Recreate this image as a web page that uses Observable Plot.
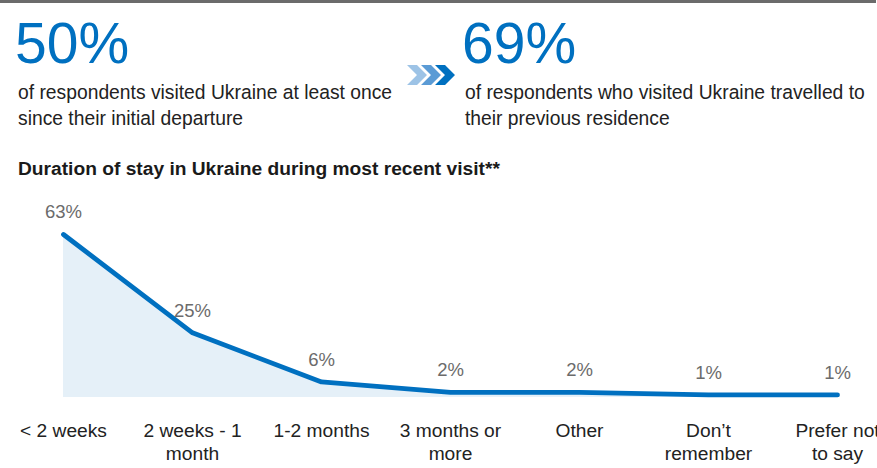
<!DOCTYPE html>
<html>
<head>
<meta charset="utf-8">
<script src="https://cdn.jsdelivr.net/npm/d3@7"></script>
<script src="https://cdn.jsdelivr.net/npm/@observablehq/plot@0.6"></script>
<style>
  html, body { margin: 0; padding: 0; background: #fff; }
  body { width: 877px; height: 468px; position: relative; overflow: hidden; font-family: "Liberation Sans", Arial, sans-serif; }
  .topbar { position: absolute; left: 0; top: 0; width: 876px; height: 3px; background: #6b6b6b; }
  .big { position: absolute; font-size: 57px; line-height: 57px; color: #0070c0; }
  .sub { position: absolute; font-size: 19.3px; line-height: 26px; color: #222; white-space: nowrap; }
  .title { position: absolute; left: 18px; top: 158px; font-size: 19.2px; line-height: 22px; font-weight: bold; color: #1a1a1a; white-space: nowrap; }
  #chart { position: absolute; left: 0; top: 190px; }
  #chev { position: absolute; left: 407px; top: 65px; }
</style>
</head>
<body>
<div class="topbar"></div>
<div class="big" id="stat1" style="left:15px; top:15px;"></div>
<div class="sub" id="text1" style="left:18px; top:80px;"></div>
<svg id="chev" width="50" height="22" viewBox="0 0 50 22">
  <polygon points="0,0 10,0 20,10 10,20 0,20 10,10" fill="#9dc3e6"/>
  <polygon points="14,0 24,0 34,10 24,20 14,20 24,10" fill="#5b9bd5"/>
  <polygon points="28,0 38,0 48,10 38,20 28,20 38,10" fill="#0070c0"/>
</svg>
<div class="big" id="stat2" style="left:462px; top:15px;"></div>
<div class="sub" id="text2" style="left:465px; top:80px;"></div>
<div class="title" id="title"></div>
<div id="chart"></div>
<script>
const headlineValues = ["50%", "69%"];
const headlineTexts = [
  "of respondents visited Ukraine at least once<br>since their initial departure",
  "of respondents who visited Ukraine travelled to<br>their previous residence"
];
const chartTitle = "Duration of stay in Ukraine during most recent visit**";
const categories = ["< 2 weeks", "2 weeks - 1 month", "1-2 months", "3 months or more", "Other", "Don’t remember", "Prefer not to say"];
const categoryLabels = ["< 2 weeks", "2 weeks - 1\nmonth", "1-2 months", "3 months or\nmore", "Other", "Don’t\nremember", "Prefer not\nto say"];
const values = [63, 25, 6, 2, 2, 1, 1];

document.getElementById("stat1").textContent = headlineValues[0];
document.getElementById("stat2").textContent = headlineValues[1];
document.getElementById("text1").innerHTML = headlineTexts[0];
document.getElementById("text2").innerHTML = headlineTexts[1];
document.getElementById("title").textContent = chartTitle;

const data = categories.map((c, i) => ({cat: c, label: categoryLabels[i], value: values[i]}));

const chart = Plot.plot({
  width: 877,
  height: 278,
  marginTop: 44,
  marginBottom: 71,
  marginLeft: 62,
  marginRight: 40,
  style: {fontFamily: "'Liberation Sans', Arial, sans-serif", background: "transparent"},
  x: {type: "point", domain: categories, padding: 0, axis: null},
  y: {domain: [0, 63], axis: null},
  marks: [
    Plot.areaY(data, {x: "cat", y: "value", fill: "#e5f0f8"}),
    Plot.lineY(data, {x: "cat", y: "value", stroke: "#0070c0", strokeWidth: 4.8, strokeLinecap: "round", strokeLinejoin: "round"}),
    Plot.text(data, {x: "cat", y: "value", text: d => d.value + "%", dy: -22, fill: "#6b6b6b", fontSize: 18.5}),
    Plot.text(data, {x: "cat", y: () => 0, text: "label", lineAnchor: "top", dy: 23, lineHeight: 1.2, fill: "#222", fontSize: 19.2})
  ]
});
document.getElementById("chart").appendChild(chart);
</script>
</body>
</html>
